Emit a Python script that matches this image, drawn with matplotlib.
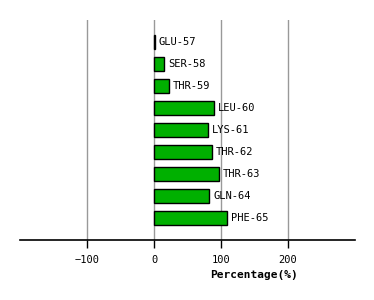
import matplotlib
matplotlib.use("Agg")
import matplotlib.pyplot as plt

residues = ["GLU-57", "SER-58", "THR-59", "LEU-60", "LYS-61",
            "THR-62", "THR-63", "GLN-64", "PHE-65"]
percent = [1, 15.5, 22, 89.5, 80.5, 86.5, 97, 82, 109]
xticks = [-100, 0, 100, 200]
xtick_labels = ["\u2212100", "0", "100", "200"]

fig = plt.figure(figsize=(3.74, 3.0), dpi=100)
ax = fig.add_axes([20 / 374, 60 / 300, 335 / 374, 220 / 300])

pos = list(range(len(residues)))
ax.barh(pos, percent, height=0.68, color="#00b000", edgecolor="black",
        linewidth=1.0, zorder=3)

# labels sit just right of each bar end
for y, v, name in zip(pos, percent, residues):
    ax.annotate(name, (v, y), xytext=(3, 0), textcoords="offset points",
                va="center", ha="left", family="DejaVu Sans Mono",
                fontsize=7.5, zorder=4)

ax.set_xlim(-201, 301)
ax.set_ylim(9, -1)
ax.set_yticks([])
ax.set_xticks(xticks)
ax.set_xticklabels(xtick_labels, family="DejaVu Sans Mono", fontsize=7.5)
ax.tick_params(axis="x", length=6, width=1, color="black", pad=5)
ax.grid(axis="x", color="#999999", linewidth=1, zorder=0)

for s in ["top", "left", "right"]:
    ax.spines[s].set_visible(False)
ax.spines["bottom"].set_linewidth(1.2)

ax.text(150, 10.6, "Percentage(%)", ha="center", va="center",
        family="DejaVu Sans Mono", fontsize=8, fontweight="bold")

fig.savefig("out.png", dpi=100)
